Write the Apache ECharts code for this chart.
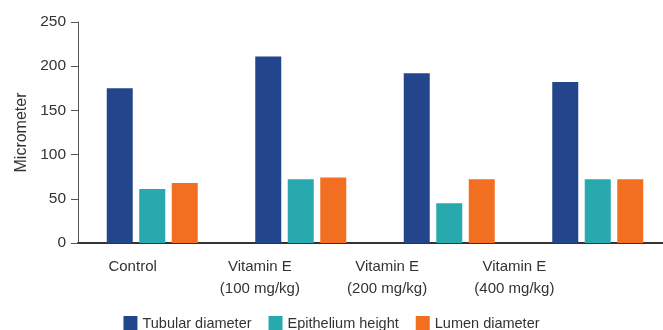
<!DOCTYPE html>
<html>
<head>
<meta charset="utf-8">
<script src="https://cdn.jsdelivr.net/npm/echarts@6/dist/echarts.min.js"></script>
<style>
  html, body { margin: 0; padding: 0; background: #fff; }
  #chart { width: 663px; height: 330px; }
</style>
</head>
<body>
<div id="chart"></div>
<script>
// data
var groups = ['Control', 'Vitamin E\n(100 mg/kg)', 'Vitamin E\n(200 mg/kg)', 'Vitamin E\n(400 mg/kg)'];
var tubular = [175, 211, 192, 182];
var epithelium = [61, 72, 45, 72];
var lumen = [68, 74, 72, 72];
var yTicks = [0, 50, 100, 150, 200, 250];

var font = '"Liberation Sans", Arial, sans-serif';

var chart = echarts.init(document.getElementById('chart'));
var option = {
	backgroundColor: '#fff',
	animation: false,
	textStyle: { fontFamily: font, color: '#333' },
	grid: [
		// the bar groups run a bit past the right edge in the original
		{ left: 78, width: 594, top: 22, bottom: 87, containLabel: false, outerBoundsMode: 'none' },
		// category labels sit on their own, narrower spacing
		{ left: 69, right: 85, top: 22, bottom: 87, containLabel: false, outerBoundsMode: 'none' }
	],
	legend: {
		left: 'center',
		top: 311,
		itemWidth: 14,
		itemHeight: 15,
		itemGap: 17,
		icon: 'rect',
		textStyle: { fontFamily: font, fontSize: 14.5, color: '#333' },
		data: ['Tubular diameter', 'Epithelium height', 'Lumen diameter']
	},
	xAxis: [{
		type: 'category',
		gridIndex: 0,
		data: groups,
		axisLine: { lineStyle: { color: '#333', width: 2 } },
		axisTick: { show: false },
		axisLabel: { show: false }
	}, {
		type: 'category',
		gridIndex: 1,
		data: groups,
		axisLine: { show: false },
		axisTick: { show: false },
		axisLabel: {
			margin: 13,
			fontFamily: font,
			fontSize: 15,
			lineHeight: 22,
			color: '#333'
		}
	}],
	yAxis: [{
		type: 'value',
		gridIndex: 0,
		min: yTicks[0],
		max: yTicks[yTicks.length - 1],
		interval: 50,
		name: 'Micrometer',
		nameLocation: 'middle',
		nameGap: 48,
		nameTextStyle: { fontFamily: font, fontSize: 16, color: '#333' },
		axisLine: { show: true, lineStyle: { color: '#555', width: 1 } },
		axisTick: { show: true, length: 7, lineStyle: { color: '#555' } },
		axisLabel: { margin: 12, fontFamily: font, fontSize: 15.5, color: '#333' },
		splitLine: { show: false }
	}, {
		type: 'value',
		gridIndex: 1,
		show: false
	}],
	series: [{
		name: 'Tubular diameter',
		type: 'bar',
		barWidth: 26,
		barGap: '25%',
		itemStyle: { color: '#23458b' },
		data: tubular
	}, {
		name: 'Epithelium height',
		type: 'bar',
		barWidth: 26,
		barGap: '25%',
		itemStyle: { color: '#27a9ae' },
		data: epithelium
	}, {
		name: 'Lumen diameter',
		type: 'bar',
		barWidth: 26,
		barGap: '25%',
		itemStyle: { color: '#f26f22' },
		data: lumen
	}]
};
chart.setOption(option);
</script>
</body>
</html>
